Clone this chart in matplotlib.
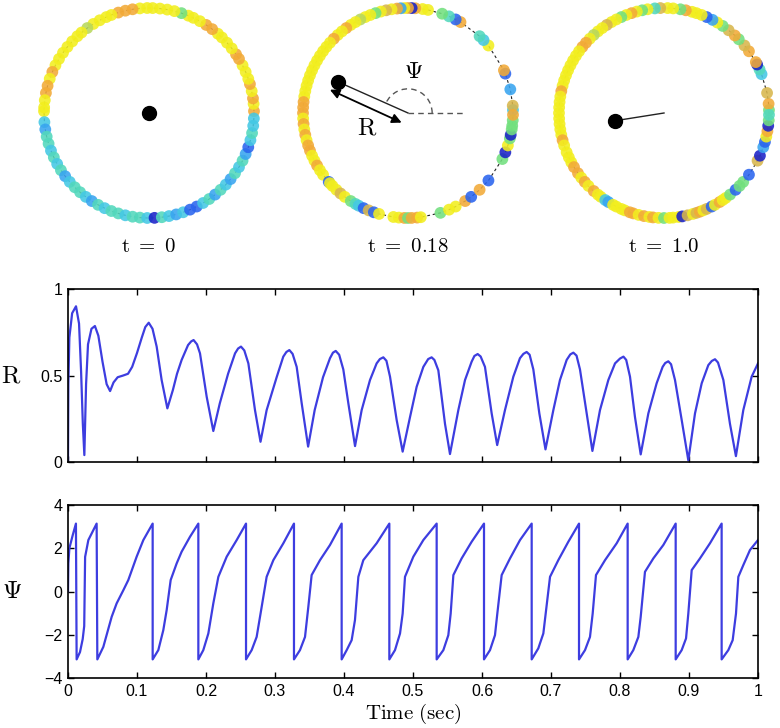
import numpy as np
import matplotlib
matplotlib.use("Agg")
import matplotlib.pyplot as plt
from matplotlib.colors import ListedColormap
from matplotlib.patches import Arc

plt.rcParams['font.family'] = ['Liberation Sans', 'DejaVu Sans']
plt.rcParams['mathtext.fontset'] = 'cm'

# order parameter R(t)
r_time = [0.0, 0.0005, 0.002, 0.006, 0.0116, 0.016, 0.019, 0.0215, 0.0237, 0.0262,
          0.029, 0.034, 0.039, 0.044, 0.050, 0.056, 0.061, 0.066, 0.072, 0.080,
          0.087, 0.093, 0.100, 0.107, 0.112, 0.117, 0.1225, 0.1285, 0.1357, 0.144,
          0.152, 0.158, 0.1647, 0.174, 0.1785, 0.182, 0.187, 0.1913, 0.201, 0.2106, 0.220,
          0.232, 0.2421, 0.2465, 0.2507, 0.2555, 0.2614, 0.271, 0.279, 0.2879, 0.3024, 0.312,
          0.3165, 0.3208, 0.3255, 0.3314, 0.3387, 0.348, 0.3575, 0.3696, 0.3797, 0.384, 0.388,
          0.393, 0.399, 0.4063, 0.416, 0.4256, 0.4377, 0.4473, 0.452, 0.457, 0.4615, 0.4667,
          0.4763, 0.485, 0.4957, 0.5053, 0.515, 0.522, 0.527, 0.531, 0.5367, 0.5415, 0.5464,
          0.5536, 0.5657, 0.5754, 0.585, 0.589, 0.5937, 0.598, 0.6043, 0.614, 0.622, 0.6333,
          0.6454, 0.655, 0.660, 0.6647, 0.669, 0.6744, 0.6831, 0.692, 0.7034, 0.713, 0.7227,
          0.728, 0.7324, 0.737, 0.742, 0.7517, 0.760, 0.771, 0.7831, 0.7928, 0.800, 0.805,
          0.809, 0.8145, 0.8217, 0.830, 0.8411, 0.8531, 0.8618, 0.8655, 0.870, 0.874, 0.8797,
          0.8894, 0.899, 0.9087, 0.9184, 0.928, 0.933, 0.9377, 0.942, 0.9498, 0.9594, 0.968,
          0.9787, 0.9908, 1.0]
r_vals = [0.0, 0.45, 0.72, 0.86, 0.90, 0.80, 0.52, 0.22, 0.04, 0.45,
          0.68, 0.77, 0.786, 0.73, 0.58, 0.45, 0.41, 0.46, 0.49, 0.50,
          0.51, 0.55, 0.63, 0.72, 0.78, 0.805, 0.77, 0.667, 0.474, 0.31,
          0.416, 0.51, 0.59, 0.676, 0.697, 0.705, 0.68, 0.628, 0.377, 0.179, 0.339,
          0.51, 0.628, 0.656, 0.667, 0.645, 0.57, 0.30, 0.117, 0.30, 0.49, 0.609,
          0.636, 0.647, 0.625, 0.55, 0.339, 0.089, 0.30, 0.49, 0.60, 0.632, 0.642,
          0.62, 0.535, 0.339, 0.092, 0.30, 0.474, 0.57, 0.595, 0.605, 0.585, 0.493,
          0.243, 0.06, 0.26, 0.435, 0.55, 0.595, 0.605, 0.59, 0.53, 0.377, 0.22,
          0.046, 0.30, 0.474, 0.58, 0.613, 0.624, 0.61, 0.55, 0.281, 0.098, 0.30,
          0.493, 0.60, 0.625, 0.636, 0.62, 0.535, 0.281, 0.073, 0.30, 0.474, 0.59,
          0.622, 0.632, 0.615, 0.535, 0.281, 0.064, 0.30, 0.474, 0.57, 0.598, 0.609,
          0.59, 0.493, 0.26, 0.044, 0.281, 0.455, 0.55, 0.572, 0.582, 0.565, 0.474,
          0.243, 0.01, 0.281, 0.455, 0.56, 0.584, 0.594, 0.575, 0.474, 0.22, 0.034,
          0.30, 0.493, 0.57]

# mean phase Psi(t)
psi_time = [0.0, 0.0005, 0.002, 0.0068, 0.0115, 0.0125, 0.0174, 0.0213, 0.0235, 0.0248, 0.0295, 0.0415,
            0.0425, 0.0512, 0.0633, 0.0705, 0.0802, 0.0874, 0.0995, 0.1092, 0.1227,
            0.1227, 0.1309, 0.1381, 0.1430, 0.1488, 0.1575, 0.1647, 0.1768, 0.1889,
            0.1889, 0.1961, 0.2034, 0.2106, 0.2179, 0.2300, 0.2445, 0.2580,
            0.2580, 0.2662, 0.2734, 0.2807, 0.2879, 0.2976, 0.3121, 0.3275,
            0.3275, 0.3362, 0.3435, 0.3483, 0.3531, 0.3652, 0.3797, 0.3966,
            0.3966, 0.4039, 0.4111, 0.4159, 0.4208, 0.4280, 0.4473, 0.4657,
            0.4657, 0.4739, 0.4812, 0.4850, 0.4884, 0.5005, 0.5150, 0.5343,
            0.5343, 0.5440, 0.5512, 0.5546, 0.5585, 0.5705, 0.5850, 0.6029,
            0.6029, 0.6116, 0.6188, 0.6222, 0.6285, 0.6406, 0.6551, 0.6720,
            0.6720, 0.6816, 0.6889, 0.6923, 0.6986, 0.7106, 0.7251, 0.7406,
            0.7406, 0.7493, 0.7565, 0.7604, 0.7652, 0.7783, 0.7952, 0.8111,
            0.8111, 0.8193, 0.8266, 0.8300, 0.8362, 0.8483, 0.8628, 0.8807,
            0.8807, 0.8894, 0.8957, 0.8990, 0.9039, 0.9159, 0.9304, 0.9473,
            0.9473, 0.9570, 0.9633, 0.9681, 0.9715, 0.9787, 0.9884, 1.0]
psi_vals = [0.0, 1.3, 2.0, 2.6, 3.14, -3.14, -2.8, -2.2, -1.6, 1.6, 2.38, 3.14,
            -3.14, -2.56, -1.17, -0.55, 0.06, 0.53, 1.61, 2.38, 3.14,
            -3.14, -2.71, -1.79, -0.86, 0.53, 1.30, 1.84, 2.53, 3.14,
            -3.14, -2.71, -1.94, -0.55, 0.68, 1.61, 2.38, 3.14,
            -3.14, -2.71, -2.10, -0.71, 0.68, 1.45, 2.23, 3.14,
            -3.14, -2.71, -2.10, -0.71, 0.76, 1.45, 2.15, 3.14,
            -3.14, -2.71, -2.25, -1.32, 0.68, 1.45, 2.23, 3.14,
            -3.14, -2.71, -1.94, -1.02, 0.68, 1.61, 2.38, 3.14,
            -3.14, -2.71, -2.02, -1.02, 0.76, 1.53, 2.30, 3.14,
            -3.14, -2.71, -2.02, -1.02, 0.76, 1.53, 2.38, 3.14,
            -3.14, -2.63, -1.94, -1.02, 0.68, 1.45, 2.30, 3.14,
            -3.14, -2.71, -2.10, -1.02, 0.76, 1.45, 2.23, 3.14,
            -3.14, -2.71, -2.10, -1.17, 0.91, 1.53, 2.15, 3.14,
            -3.14, -2.71, -2.17, -1.02, 0.99, 1.53, 2.23, 3.14,
            -3.14, -2.71, -2.25, -1.02, 0.68, 1.22, 1.92, 2.38]

# oscillator snapshots: angle on the ring (deg) and colour level 0..9
snap_labels = ['0', '0.18', '1.0']
snap_R = [0.0, 0.73, 0.47]
snap_psi = [0.0, 156.0, 189.0]

ang0 = [1, 5, 8, 12, 16, 19, 23, 27, 31, 34, 38, 42, 46, 49, 53, 57, 61, 65, 68, 72,
        76, 80, 84, 88, 91, 95, 99, 103, 107, 111, 114, 118, 122, 126, 130, 133, 137,
        141, 145, 149, 153, 157, 161, 165, 169, 173, 177, 179,
        185, 189, 193, 197, 201, 205, 209, 213, 217, 221, 225, 229, 233, 237, 241, 245,
        249, 253, 257, 261, 265, 269, 273, 277, 281, 285, 289, 293, 297, 301, 305, 309,
        313, 317, 321, 325, 329, 333, 337, 341, 345, 349, 353, 357]
col0 = [8, 9, 8, 9, 8, 9, 9, 9, 8, 8, 9, 9, 9, 9, 8, 8, 9, 9, 9, 5,
        9, 9, 9, 9, 9, 9, 8, 8, 8, 9, 9, 9, 9, 6, 9, 9, 9,
        9, 9, 9, 9, 8, 9, 8, 8, 9, 9, 9,
        3, 2, 4, 4, 3, 4, 3, 4, 2, 3, 4, 4, 3, 2, 4, 3,
        4, 4, 3, 4, 4, 3, 0, 4, 3, 2, 3, 1, 1, 3, 4, 2,
        4, 3, 2, 4, 3, 4, 2, 1, 3, 4, 3, 3]

ang1 = [1.6, 4, 13, 22, 24, 40, 44, 47, 60, 63, 67, 71, 79, 82, 86, 88, 90, 92, 94, 96, 99,
        102, 105, 108, 111, 114, 117, 120, 123, 126, 129, 132, 135, 138, 141, 144, 147,
        150, 153, 156, 159, 162, 165, 168, 171, 174, 177, 180, 183, 186, 189, 192, 195,
        198, 201, 204, 207, 210, 213, 216, 221, 222, 224, 227, 230, 233, 237, 240, 242,
        245, 248, 251, 254, 262, 265, 268, 270, 272, 275, 277, 288, 293, 297, 303, 307,
        313, 320, 334, 338, 342, 346, 348, 351, 353, 356, 359]
col1 = [3, 7, 2, 1, 8, 9, 3, 4, 8, 1, 4, 5, 9, 9, 8, 0, 8, 9, 2, 8, 9,
        7, 9, 5, 9, 9, 6, 9, 9, 8, 9, 9, 8, 9, 9, 9, 9,
        9, 9, 9, 9, 9, 9, 9, 9, 8, 8, 8, 9, 8, 9, 8, 9,
        8, 8, 9, 9, 8, 9, 9, 1, 9, 9, 9, 7, 9, 5, 4, 3,
        1, 7, 1, 9, 9, 9, 8, 5, 8, 8, 9, 5, 9, 9, 8, 1,
        8, 1, 5, 0, 9, 5, 0, 5, 5, 5, 8]

ang2 = [1.6, 5, 11, 21.7, 24.5, 27.5, 29, 36, 40, 44.6, 47.6, 52, 56, 59.5, 62.5, 66, 69,
        72, 74.5, 78, 81, 85, 88, 92, 95, 99, 102, 105, 108, 111, 114, 117, 120, 123,
        126, 129, 132, 135, 138, 141, 144, 147, 150, 153, 156, 159, 162, 165, 168, 171,
        174, 177, 180, 183, 186, 189, 192, 195, 198, 202, 205, 208, 211, 215, 218, 221,
        224, 228, 231, 233, 236, 238, 241, 243, 246, 248, 251, 253, 256, 259, 262, 264,
        267, 270, 273, 275, 278, 280, 283, 286, 288, 290, 292, 294, 297, 299, 302, 304,
        306, 309, 313, 316, 319, 324, 333, 336, 341, 344, 347, 350, 353, 356, 359]
col2 = [5, 8, 7, 3, 4, 0, 8, 8, 7, 5, 8, 7, 5, 9, 2, 1, 9,
        9, 9, 8, 5, 9, 9, 7, 4, 9, 5, 9, 8, 9, 5, 9, 9, 7,
        9, 9, 6, 9, 8, 8, 9, 9, 9, 9, 9, 9, 9, 9, 8, 9,
        9, 9, 9, 9, 9, 9, 9, 8, 9, 9, 9, 9, 8, 8, 9, 8,
        9, 8, 9, 9, 3, 2, 9, 9, 9, 9, 8, 8, 9, 8, 9, 8,
        9, 5, 9, 9, 9, 0, 7, 9, 7, 8, 9, 7, 1, 9, 8, 9,
        9, 5, 1, 5, 5, 1, 7, 0, 2, 1, 9, 8, 0, 5, 4]

ring_angles = [ang0, ang1, ang2]
ring_colors = [col0, col1, col2]

level_colors = ['#1a22c8', '#2a64ee', '#38a4f0', '#44c8e4', '#52d8bc',
                '#72e07e', '#b8d85c', '#d8b64c', '#f2aa38', '#f2ee1e']
cmap = ListedColormap(level_colors)

fig = plt.figure(figsize=(7.8, 7.28), dpi=100)
W, H = 780.0, 728.0
centers_px = [149, 408, 664]
box = 252.0
lim = 1.2

for i in range(3):
    cx = centers_px[i]
    ax = fig.add_axes([(cx - box / 2) / W, 1 - (113 + box / 2) / H, box / W, box / H])
    ax.set_xlim(-lim, lim)
    ax.set_ylim(-lim, lim)
    ax.set_aspect('equal')
    ax.axis('off')
    th = np.deg2rad(np.sort(ring_angles[i]))
    th = np.append(th, th[0])
    ax.plot(np.cos(th), np.sin(th), color='#222222', lw=0.8, dashes=(2.5, 2.5), zorder=1)
    a = np.deg2rad(ring_angles[i])
    ax.scatter(np.cos(a), np.sin(a), c=ring_colors[i], cmap=cmap, vmin=-0.5, vmax=9.5,
               s=72, alpha=0.88, linewidths=0, zorder=2)
    p = np.deg2rad(snap_psi[i])
    dx, dy = snap_R[i] * np.cos(p), snap_R[i] * np.sin(p)
    if snap_R[i] > 0:
        ax.plot([dx, 0], [dy, 0], color='#222222', lw=1.0, zorder=3)
    ax.plot(dx, dy, 'o', color='black', ms=10, zorder=4)
    fig.text(cx / W, 1 - 246 / H, r'$\mathrm{t}\ =\ %s$' % snap_labels[i],
             ha='center', va='center', fontsize=15)
    if i == 1:
        ax.plot([0, 0.52], [0, 0], color='#555555', lw=1.0, dashes=(4, 3), zorder=3)
        ax.add_patch(Arc((0, 0), 0.46, 0.46, theta1=0, theta2=snap_psi[i],
                         color='#555555', lw=1.0, linestyle=(0, (4, 3)), zorder=3))
        ux, uy = -dx / snap_R[i], -dy / snap_R[i]
        px, py = -0.405, -0.915
        off = 0.1
        ax.annotate('', xy=(-0.02 + px * off, py * off),
                    xytext=(dx - 0.04 * ux + px * off, dy - 0.04 * uy + py * off),
                    arrowprops=dict(arrowstyle='<|-|>', color='black', lw=1.3,
                                    mutation_scale=14, shrinkA=0, shrinkB=0))
        ax.text(0.05, 0.39, r'$\Psi$', fontsize=17, ha='center', va='center')
        ax.text(-0.39, -0.14, r'$\mathrm{R}$', fontsize=18, ha='center', va='center')

line_col = '#3d3de0'
ax_r = fig.add_axes([68 / W, 1 - 462 / H, 690 / W, 173 / H])
ax_r.plot(r_time, r_vals, color=line_col, lw=1.6)
ax_r.set_xlim(0, 1)
ax_r.set_ylim(0, 1)
ax_r.set_yticks([0, 0.5, 1])
ax_r.set_yticklabels(['0', '0.5', '1'])
ax_r.set_xticks(np.arange(0, 1.01, 0.1))
ax_r.set_xticklabels([])
ax_r.set_ylabel(r'$\mathrm{R}$', fontsize=18, rotation=0, va='center', ha='center')
ax_r.yaxis.set_label_coords(-0.083, 0.5)

ax_p = fig.add_axes([68 / W, 1 - 678 / H, 690 / W, 173 / H])
ax_p.plot(psi_time, psi_vals, color=line_col, lw=1.6)
ax_p.set_xlim(0, 1)
ax_p.set_ylim(-4, 4)
ax_p.set_yticks([-4, -2, 0, 2, 4])
ax_p.set_xticks(np.arange(0, 1.01, 0.1))
ax_p.set_xticklabels(['0', '0.1', '0.2', '0.3', '0.4', '0.5', '0.6', '0.7', '0.8', '0.9', '1'])
ax_p.set_ylabel(r'$\Psi$', fontsize=18, rotation=0, va='center', ha='center')
ax_p.yaxis.set_label_coords(-0.081, 0.5)
ax_p.set_xlabel(r'$\mathrm{Time\ (sec)}$', fontsize=15, va='center')
ax_p.xaxis.set_label_coords(0.5, -0.205)

for ax in (ax_r, ax_p):
    ax.tick_params(direction='in', length=4, width=1.0, top=True, right=True,
                   labelsize=11.5, pad=4, colors='black')
    for s in ax.spines.values():
        s.set_linewidth(1.2)

fig.savefig('out.png', dpi=100)
